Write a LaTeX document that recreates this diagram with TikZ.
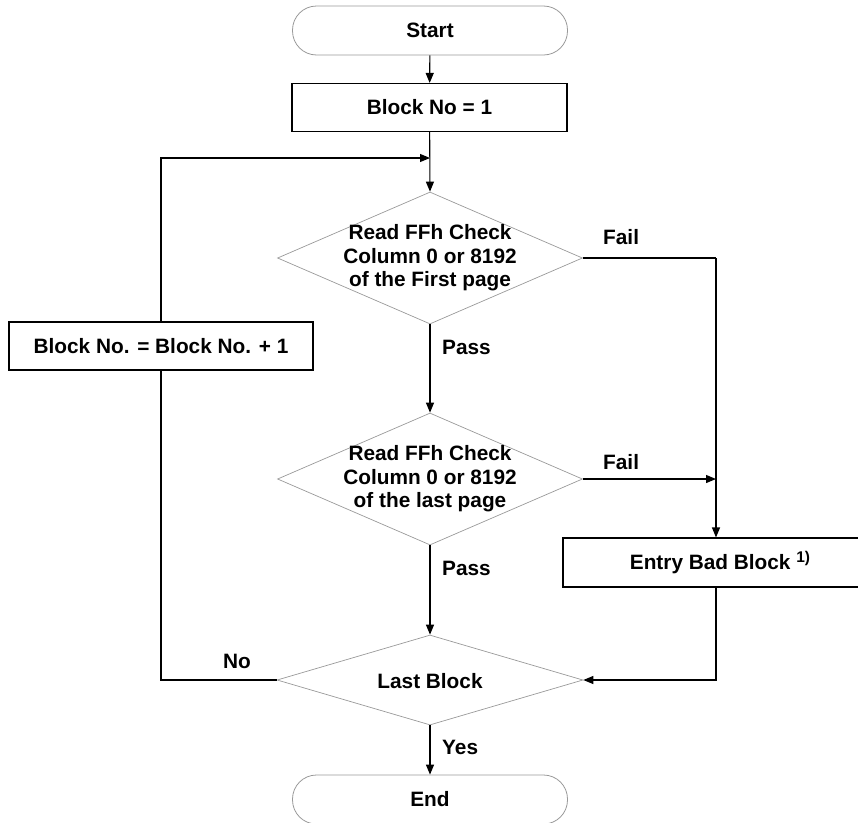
\documentclass[tikz,border=0pt]{standalone}
\usepackage{fontspec}
\setmainfont{Liberation Sans}
\usetikzlibrary{shapes.geometric,arrows.meta}
\begin{document}
\begin{tikzpicture}[x=1pt,y=-1pt,
  every node/.style={font=\fontsize{20.8}{23.5}\selectfont\bfseries},
  term/.style={draw=gray!80,line width=0.8pt,rounded corners=24pt,minimum width=275pt,minimum height=49pt,inner sep=0pt},
  proc/.style={draw=black,line width=1.1pt,minimum height=48pt,inner sep=0pt},
  dia/.style={draw=gray!80,line width=0.7pt,diamond,inner sep=0pt},
  txt/.style={align=center,inner sep=0pt},
  lbl/.style={anchor=west,inner sep=0pt},
  conn/.style={line width=1.1pt},
  arr/.style={conn,-{Triangle[length=10pt,width=8pt]}}]
\useasboundingbox (0,0) rectangle (858,822);
\clip (0,0) rectangle (858,822);
\node[term] (start) at (430,30.5) {Start};
\node[proc,minimum width=275pt] (init) at (429.5,107.5) {Block No = 1};
\node[dia,minimum width=305pt,minimum height=132pt] (d1) at (430,258) {};
\node[txt] (d1t) at (430,258) {Read FFh Check\\Column 0 or 8192\\of the First page};
\node[dia,minimum width=305pt,minimum height=132pt] (d2) at (430,479) {};
\node[txt] (d2t) at (430,479) {Read FFh Check\\Column 0 or 8192\\of the last page};
\node[dia,minimum width=306pt,minimum height=90pt] (d3) at (430,680) {};
\node[txt] (d3t) at (430,681) {Last Block};
\node[proc,minimum width=304pt] (inc) at (161,346) {Block No. = Block No. + 1};
\node[proc,minimum width=314pt,minimum height=49pt] (bad) at (720,562.5) {Entry Bad Block \raisebox{0.6ex}{\fontsize{15.5}{17}\selectfont 1)}};
\node[term] (end) at (430,799.5) {End};
\coordinate (loopR) at (430,158);
\coordinate (f1) at (716,258);
\coordinate (f2) at (716,479);
\coordinate (b1) at (716,680);
\draw[arr] (start) -- (init);
\draw[arr] (init) -- (d1.north);
\draw[arr] (inc.north) |- (loopR);
\draw[conn] (d1.east) -- (f1);
\draw[arr] (f1) -- (f1 |- bad.north);
\draw[arr] (d2.east) -- (f2);
\draw[arr] (d1.south) -- (d2.north);
\draw[arr] (d2.south) -- (d3.north);
\draw[arr] (bad.south -| b1) |- (d3.east);
\draw[conn] (d3.west) -| (inc.south);
\draw[arr] (d3.south) -- (end.north);
\node[lbl] (fail1) at (603,237) {Fail};
\node[lbl] (fail2) at (603,462) {Fail};
\node[lbl] (pass1) at (442,347) {Pass};
\node[lbl] (pass2) at (442,568) {Pass};
\node[lbl] (no) at (223,661) {No};
\node[lbl] (yes) at (442,747) {Yes};
\end{tikzpicture}
\end{document}
